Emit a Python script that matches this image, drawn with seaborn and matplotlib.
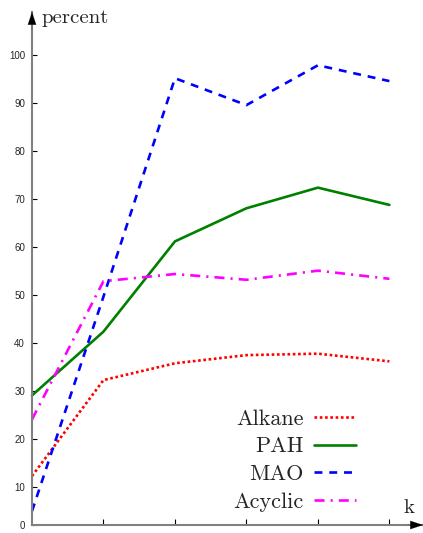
import matplotlib
matplotlib.use("Agg")
import matplotlib.pyplot as plt
import seaborn as sns
import pandas as pd

# ---- data ----
k = [0, 1, 2, 3, 4, 5]
alkane = [12.2, 32.2, 35.7, 37.4, 37.7, 36.1]
pah = [29.0, 42.3, 61.1, 68.0, 72.3, 68.7]
mao = [4.9, 49.6, 95.1, 89.5, 97.8, 94.5]
acyclic = [24.0, 52.8, 54.3, 53.1, 55.0, 53.3]
series_names = ["Alkane", "PAH", "MAO", "Acyclic"]
y_tick_values = [10, 20, 30, 40, 50, 60, 70, 80, 90, 100]
y_tick_labels = ["10", "20", "30", "40", "50", "60", "70", "80", "90", "100"]
x_tick_values = [1, 2, 3, 4, 5]

sns.set_style("white")
plt.rcParams["font.family"] = ["Liberation Sans", "DejaVu Sans"]

W, H = 423, 533
fig = plt.figure(figsize=(W / 100, H / 100), dpi=100)
ax = fig.add_axes([32 / W, (H - 525) / H, 1 - 32 / W, (525 - 12) / H])

colors = ["#ff0000", "#008000", "#0000ff", "#ff00ff"]
styles = [(0, (1.0, 1.0)), "-", (0, (3.0, 2.6)), (0, (3.8, 2.3, 0.8, 2.3))]
values = [alkane, pah, mao, acyclic]
for name, vals, c, ls in zip(series_names, values, colors, styles):
    df = pd.DataFrame({"k": k, "v": vals})
    sns.lineplot(data=df, x="k", y="v", ax=ax, color=c, linestyle=ls,
                 linewidth=1.9, label=name, clip_on=False)

ylo = 2.0
ax.set_ylim(ylo, 108.9)
ax.set_xlim(0, 5.47)
ax.set_yticks([ylo] + y_tick_values)
ax.set_yticklabels(["0"] + y_tick_labels)
ax.set_xticks(x_tick_values)
ax.set_xticklabels([])
ax.set_xlabel("")
ax.set_ylabel("")
ax.tick_params(axis="y", direction="in", length=3.6, width=0.8, color="black",
               labelsize=7, pad=5, left=True)
ax.tick_params(axis="x", direction="in", length=4.2, width=0.8, color="black",
               bottom=True)
for s in ["top", "right"]:
    ax.spines[s].set_visible(False)
for s in ["left", "bottom"]:
    ax.spines[s].set_color("#808080")
    ax.spines[s].set_linewidth(1.5)
ax.patch.set_alpha(0)

# arrow heads
ax.annotate("", xy=(0, 1), xytext=(0, 0.965), xycoords="axes fraction",
            arrowprops=dict(arrowstyle="-|>,head_length=0.9,head_width=0.3",
                            color="black", lw=0.1, shrinkA=0, shrinkB=0))
ax.annotate("", xy=(1, 0), xytext=(0.96, 0), xycoords="axes fraction",
            arrowprops=dict(arrowstyle="-|>,head_length=0.9,head_width=0.3",
                            color="black", lw=0.1, shrinkA=0, shrinkB=0))

fig.text(41 / W, 1 - 23 / H, "percent", family="cmr10", fontsize=15,
         ha="left", va="baseline")
fig.text(403 / W, 1 - 513 / H, "k", family="cmr10", fontsize=15,
         ha="left", va="baseline")

leg = ax.legend(loc="lower right", bbox_to_anchor=(356 / W, 21 / H),
                bbox_transform=fig.transFigure, markerfirst=False, frameon=False,
                borderpad=0, borderaxespad=0, handlelength=1.9,
                handletextpad=0.45, labelspacing=0.37,
                prop={"family": "cmr10", "size": 16})

fig.savefig("out.png", dpi=100)
